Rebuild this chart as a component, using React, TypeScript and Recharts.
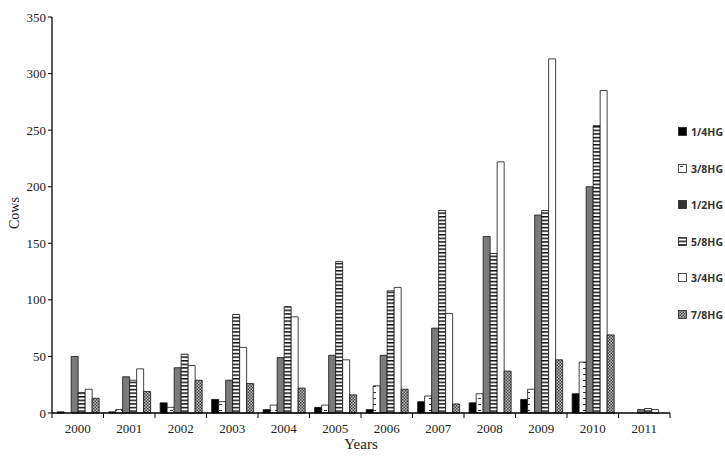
import { BarChart, Bar, XAxis, YAxis } from "recharts"

const years = ["2000", "2001", "2002", "2003", "2004", "2005", "2006", "2007", "2008", "2009", "2010", "2011"]
const hg14 = [1, 1, 9, 12, 3, 5, 3, 10, 9, 12, 17, 0]
const hg38 = [0, 3, 5, 10, 7, 7, 24, 15, 17, 21, 45, 0]
const hg12 = [50, 32, 40, 29, 49, 51, 51, 75, 156, 175, 200, 3]
const hg58 = [18, 29, 52, 87, 94, 134, 108, 179, 141, 179, 254, 4]
const hg34 = [21, 39, 42, 58, 85, 47, 111, 88, 222, 313, 285, 3]
const hg78 = [13, 19, 29, 26, 22, 16, 21, 8, 37, 47, 69, 0]
const yTicks = [0, 50, 100, 150, 200, 250, 300, 350]

const series = [
  { key: "hg14", name: "1/4HG", fill: "#000000", legendFill: "#000000" },
  { key: "hg38", name: "3/8HG", fill: "url(#dash)", legendFill: "url(#dash)" },
  { key: "hg12", name: "1/2HG", fill: "#7a7a7a", legendFill: "#333333" },
  { key: "hg58", name: "5/8HG", fill: "url(#stripes)", legendFill: "url(#stripes)" },
  { key: "hg34", name: "3/4HG", fill: "#ffffff", legendFill: "#ffffff" },
  { key: "hg78", name: "7/8HG", fill: "url(#checks)", legendFill: "url(#checks)" },
]

const data = years.map((year, i) => ({
  year,
  hg14: hg14[i],
  hg38: hg38[i],
  hg12: hg12[i],
  hg58: hg58[i],
  hg34: hg34[i],
  hg78: hg78[i],
}))

const serif = "'Liberation Serif', 'Times New Roman', serif"

function YearTick(props: any) {
  const { x, y, payload, index } = props
  const half = payload.offset || 25.75
  return (
    <g>
      <line x1={x - half} y1={y - 8} x2={x - half} y2={y - 3} stroke="#000" strokeWidth={1} />
      {index === years.length - 1 && (
        <line x1={x + half} y1={y - 8} x2={x + half} y2={y - 3} stroke="#000" strokeWidth={1} />
      )}
      <text x={x} y={y + 12} textAnchor="middle" fontFamily={serif} fontSize={13} fill="#222">
        {payload.value}
      </text>
    </g>
  )
}

function Patterns() {
  return (
    <defs>
      <pattern id="stripes" patternUnits="userSpaceOnUse" width="8" height="3.6">
        <rect width="8" height="3.6" fill="#fff" />
        <rect y="0" width="8" height="1.5" fill="#111" />
      </pattern>
      <pattern id="dash" patternUnits="userSpaceOnUse" width="7" height="6">
        <rect width="7" height="6" fill="#fff" />
        <rect x="2" y="2" width="3" height="1" fill="#333" />
      </pattern>
      <pattern id="checks" patternUnits="userSpaceOnUse" width="3" height="3">
        <rect width="3" height="3" fill="#bdbdbd" />
        <rect width="1.5" height="1.5" fill="#444" />
        <rect x="1.5" y="1.5" width="1.5" height="1.5" fill="#444" />
      </pattern>
    </defs>
  )
}

export default function App() {
  return (
    <div style={{ position: "absolute", left: 0, top: 0, width: 725, height: 460, background: "#fff" }}>
      <BarChart
        width={725}
        height={460}
        data={data}
        margin={{ top: 17, right: 55, left: 0, bottom: 17 }}
        barCategoryGap="10%"
        barGap={0}
      >
        <Patterns />
        <XAxis
          dataKey="year"
          axisLine={{ stroke: "#000", strokeWidth: 1.3 }}
          tickLine={false}
          tick={<YearTick />}
          height={30}
          interval={0}
          label={{ value: "Years", position: "insideBottom", offset: -6, fontFamily: serif, fontSize: 15, fill: "#222" }}
        />
        <YAxis
          width={52}
          domain={[0, 350]}
          ticks={yTicks}
          interval={0}
          axisLine={{ stroke: "#000", strokeWidth: 1.3 }}
          tickLine={{ stroke: "#000" }}
          tickSize={4}
          tick={{ fontFamily: serif, fontSize: 13, fill: "#222" }}
          label={{ value: "Cows", angle: -90, position: "insideLeft", offset: 14, dy: 14, fontFamily: serif, fontSize: 14, fill: "#222" }}
        />
        {series.map((s) => (
          <Bar key={s.key} dataKey={s.key} name={s.name} fill={s.fill} stroke="#111" strokeWidth={0.8} isAnimationActive={false} />
        ))}
      </BarChart>
      <div style={{ position: "absolute", left: 678, top: 125, fontFamily: "'Open Sans', 'DejaVu Sans', sans-serif", fontSize: 10.5, fontWeight: 700, color: "#333" }}>
        {series.map((s) => (
          <div key={s.key} style={{ height: 36.5, display: "flex", alignItems: "flex-start" }}>
            <svg width={10} height={10} style={{ marginRight: 3, marginTop: 2 }}>
              <rect x={0.5} y={0.5} width={8} height={8} fill={s.legendFill} stroke="#222" strokeWidth={0.8} />
            </svg>
            <span>{s.name}</span>
          </div>
        ))}
      </div>
    </div>
  )
}
